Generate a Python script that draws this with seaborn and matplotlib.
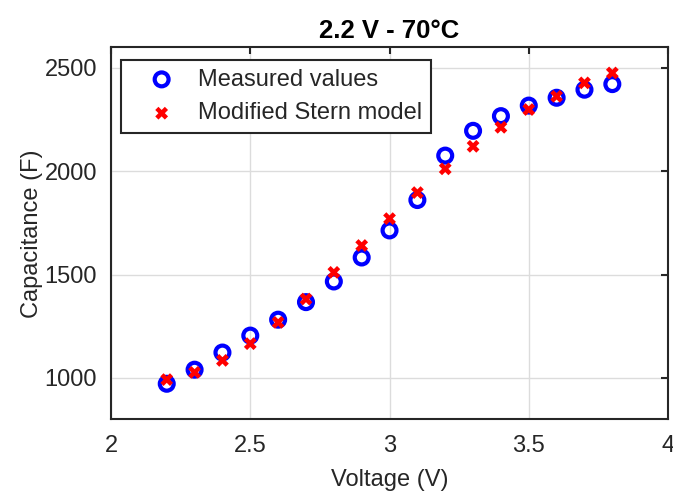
import matplotlib
matplotlib.use("Agg")
import matplotlib.pyplot as plt
import seaborn as sns
import pandas as pd

voltage = [2.2, 2.3, 2.4, 2.5, 2.6, 2.7, 2.8, 2.9, 3.0, 3.1, 3.2, 3.3, 3.4, 3.5, 3.6, 3.7, 3.8]
measured = [972, 1040, 1123, 1205, 1282, 1367, 1467, 1583, 1714, 1861, 2076, 2196, 2267, 2318, 2356, 2395, 2422]
stern = [992, 1027, 1085, 1166, 1269, 1382, 1511, 1641, 1771, 1897, 2012, 2121, 2213, 2299, 2363, 2428, 2476]

x_ticks = [2, 2.5, 3, 3.5, 4]
x_tick_labels = ["2", "2.5", "3", "3.5", "4"]
y_ticks = [1000, 1500, 2000, 2500]
y_tick_labels = ["1000", "1500", "2000", "2500"]

df = pd.DataFrame({"Voltage": voltage, "Measured": measured, "Stern": stern})

sns.set_theme(style="white")
plt.rcParams['font.family'] = ['Liberation Sans', 'DejaVu Sans']

fig = plt.figure(figsize=(6.73, 4.93), dpi=100)
ax = fig.add_axes([0.165, 0.1495, 0.8276, 0.7545])

txt = "#262626"
ax.grid(True, color="#dcdcdc", linewidth=1.0)
ax.set_axisbelow(True)

sns.scatterplot(data=df, x="Voltage", y="Measured", ax=ax, marker="o",
                facecolor="none", edgecolor="#0000ff", linewidth=3.0, s=100,
                label="Measured values", zorder=3)
sns.scatterplot(data=df, x="Voltage", y="Stern", ax=ax, marker="X",
                color="#ff0000", edgecolor="none", linewidth=0, s=85,
                label="Modified Stern model", zorder=4)

ax.set_xlim(2, 4)
ax.set_ylim(800, 2600)
ax.set_xticks(x_ticks)
ax.set_xticklabels(x_tick_labels)
ax.set_yticks(y_ticks)
ax.set_yticklabels(y_tick_labels)
ax.tick_params(direction="in", length=5, width=1.5, colors=txt, labelsize=17,
               top=True, right=True, pad=10)
ax.tick_params(axis="x", pad=11)
for s in ax.spines.values():
    s.set_color(txt)
    s.set_linewidth(1.5)

ax.set_xlabel("Voltage (V)", fontsize=17, color=txt, labelpad=9)
ax.set_ylabel("Capacitance (F)", fontsize=17, color=txt, labelpad=1)
ax.set_title("2.2 V - 70°C", fontsize=18.5, fontweight="bold", color="black", pad=7)

leg = ax.legend(loc="upper left", bbox_to_anchor=(0.0175, 0.967), fontsize=17,
                frameon=True, fancybox=False, shadow=False, borderpad=0.38,
                handletextpad=0.2, labelspacing=0.5, borderaxespad=0.0,
                handlelength=2.7)
leg.get_frame().set_edgecolor(txt)
leg.get_frame().set_linewidth(1.5)
leg.get_frame().set_alpha(1)

fig.savefig("out.png", dpi=100)
